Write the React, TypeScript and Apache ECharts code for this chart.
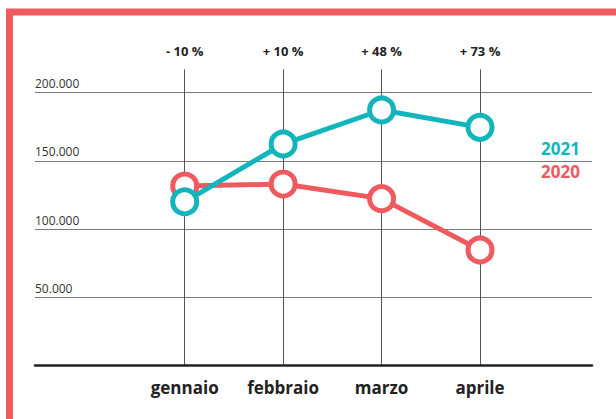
import React, { useEffect, useRef } from "react";
import * as echarts from "echarts";

const months = ["gennaio", "febbraio", "marzo", "aprile"];
const changes = ["- 10 %", "+ 10 %", "+ 48 %", "+ 73 %"];
const values2020 = [131500, 133000, 122300, 84700];
const values2021 = [120000, 162300, 187200, 174500];
const yTicks = [50000, 100000, 150000, 200000];

const TEAL = "#13b5bc";
const RED = "#ef5a5f";
const FONT = "'Open Sans', 'Noto Sans', sans-serif";

export default function App() {
  const ref = useRef<HTMLDivElement>(null);
  useEffect(() => {
    if (!ref.current) return;
    const chart = echarts.init(ref.current, null, { renderer: "svg" });
    const yMax = 217000;
    chart.setOption({
      animation: false,
      backgroundColor: "#ffffff",
      textStyle: { fontFamily: FONT },
      graphic: [
        {
          type: "rect",
          shape: { x: 9.5, y: 12, width: 700, height: 500 },
          style: { fill: "none", stroke: RED, lineWidth: 7 },
          z: 10,
        },
      ],
      legend: {
        orient: "vertical",
        left: 531,
        top: 135,
        icon: "none",
        itemWidth: 0,
        itemHeight: 10,
        itemGap: 6,
        selectedMode: false,
        data: [
          { name: "2021", textStyle: { color: TEAL } },
          { name: "2020", textStyle: { color: RED } },
        ],
        textStyle: { fontSize: 17, fontWeight: "bold", fontFamily: FONT },
      },
      grid: [
        { left: 184.7, right: 136, top: 69.3, bottom: 53.3 },
        { left: 35, right: 24, top: 69.3, bottom: 53.3 },
      ],
      xAxis: [
        {
          type: "category",
          gridIndex: 0,
          position: "bottom",
          data: months,
          boundaryGap: false,
          axisLine: { show: false },
          axisTick: { show: false },
          axisLabel: {
            interval: 0,
            margin: 13,
            fontSize: 17,
            fontWeight: "bold",
            color: "#222",
            fontFamily: FONT,
          },
          splitLine: { show: true, interval: 0, lineStyle: { color: "#555", width: 1 } },
          z: 1,
        },
        {
          type: "category",
          gridIndex: 0,
          position: "top",
          data: changes,
          boundaryGap: false,
          axisLine: { show: false },
          axisTick: { show: false },
          axisLabel: {
            interval: 0,
            margin: 12,
            fontSize: 13,
            fontWeight: "bold",
            color: "#222",
            fontFamily: FONT,
          },
          splitLine: { show: false },
        },
        {
          type: "value",
          gridIndex: 1,
          min: 0,
          max: 1,
          axisLine: { show: true, onZero: false, lineStyle: { color: "#222", width: 2.5 } },
          axisTick: { show: false },
          axisLabel: { show: false },
          splitLine: { show: false },
          z: 5,
        },
      ],
      yAxis: [
        {
          type: "value",
          gridIndex: 0,
          min: 0,
          max: yMax,
          show: false,
          splitLine: { show: false },
        },
        {
          type: "value",
          gridIndex: 1,
          min: 0,
          max: yMax,
          interval: 50000,
          axisLine: { show: false },
          axisTick: { show: false },
          axisLabel: {
            inside: true,
            margin: 0,
            verticalAlign: "bottom",
            padding: [0, 0, 3, 0],
            fontSize: 12,
            color: "#333",
            fontFamily: FONT,
            showMaxLabel: false,
            showMinLabel: false,
            formatter: (v: number) =>
              yTicks.includes(v) ? `${v / 1000}.000` : "",
          },
          splitLine: {
            show: true,
            showMinLine: false,
            showMaxLine: false,
            lineStyle: { color: "#7a7a7a", width: 1 },
          },
        },
      ],
      series: [
        {
          name: "2020",
          type: "line",
          xAxisIndex: 0,
          yAxisIndex: 0,
          data: values2020,
          clip: false,
          symbol: "circle",
          symbolSize: 24,
          color: RED,
          lineStyle: { color: RED, width: 5 },
          itemStyle: { color: "#ffffff", borderColor: RED, borderWidth: 5 },
          z: 3,
        },
        {
          name: "2021",
          type: "line",
          xAxisIndex: 0,
          yAxisIndex: 0,
          data: values2021,
          clip: false,
          symbol: "circle",
          symbolSize: 24,
          color: TEAL,
          lineStyle: { color: TEAL, width: 5 },
          itemStyle: { color: "#ffffff", borderColor: TEAL, borderWidth: 5 },
          z: 4,
        },
      ],
    });
    return () => chart.dispose();
  }, []);
  return (
    <div
      ref={ref}
      style={{ position: "fixed", left: 0, top: 0, width: 616, height: 419 }}
    />
  );
}
